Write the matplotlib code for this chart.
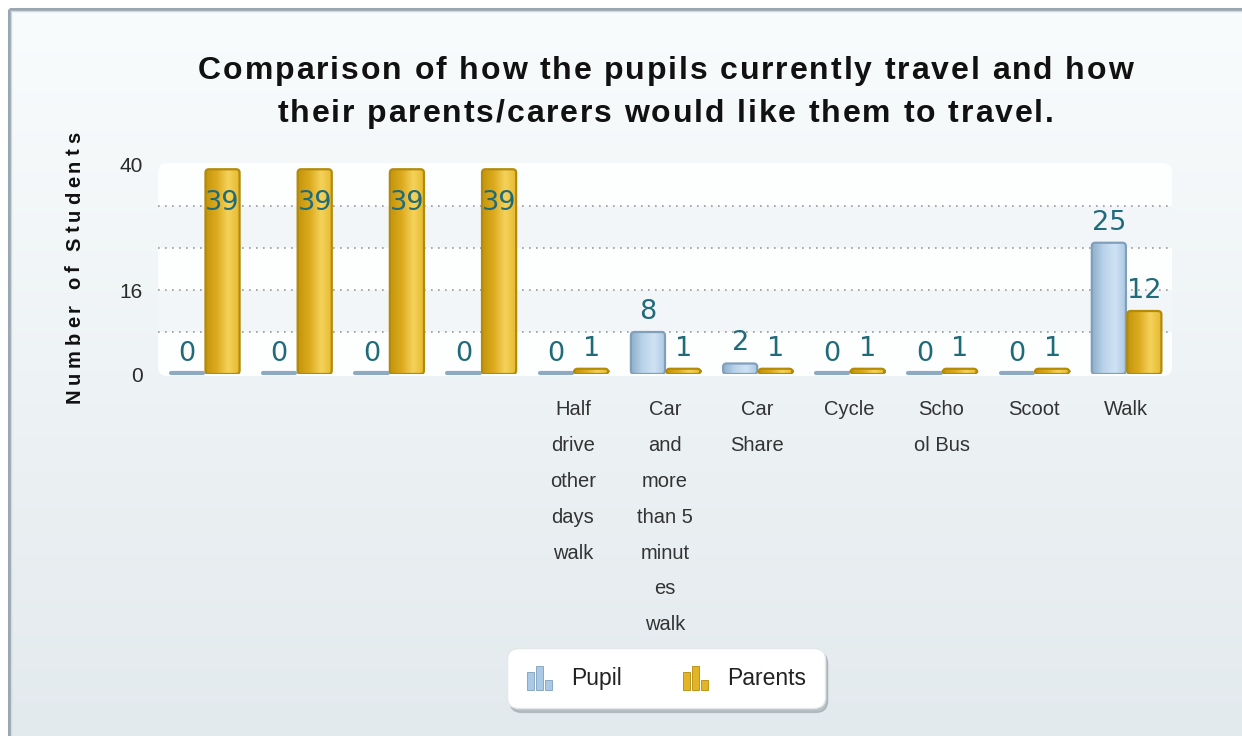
import numpy as np
import matplotlib
matplotlib.use("Agg")
import matplotlib.pyplot as plt
from matplotlib.patches import FancyBboxPatch, Rectangle, Patch
from matplotlib.legend_handler import HandlerBase
from matplotlib.font_manager import FontProperties
from matplotlib.textpath import TextToPath
from matplotlib.colors import to_rgb

# ---- data ----
categories = ["", "", "", "",
              "Half\ndrive\nother\ndays\nwalk",
              "Car\nand\nmore\nthan 5\nminut\nes\nwalk",
              "Car\nShare", "Cycle", "Scho\nol Bus", "Scoot", "Walk"]
pupil = [0, 0, 0, 0, 0, 8, 2, 0, 0, 0, 25]
parents = [39, 39, 39, 39, 1, 1, 1, 1, 1, 1, 12]
series_names = ["Pupil", "Parents"]
y_ticks = [0, 16, 40]
y_grid = [8, 16, 24, 32]
title_lines = ["Comparison of how the pupils currently travel and how",
               "their parents/carers would like them to travel."]
y_label = "Number of Students"

W, H, DPI = 1242, 736, 100
fig = plt.figure(figsize=(W / DPI, H / DPI), dpi=DPI)

# ---- background with frame ----
bg = fig.add_axes([0, 0, 1, 1], zorder=-10)
bg.set_xlim(0, W)
bg.set_ylim(H, 0)
bg.axis("off")
top_c, bot_c = np.array(to_rgb("#f9fcfd")), np.array(to_rgb("#e3eaed"))
t = np.linspace(0, 1, 256)[:, None, None]
grad = top_c * (1 - t) + bot_c * t
grad = np.repeat(grad, 2, axis=1)
bg.imshow(grad, extent=(9, W, H, 9), aspect="auto", interpolation="bilinear")
bg.plot([8.5, W], [8.5, 8.5], color="#9aa7b1", lw=2.2, solid_capstyle="butt")
bg.plot([8.5, 8.5], [8.5, H], color="#9aa7b1", lw=2.2, solid_capstyle="butt")
bg.plot([10.5, W], [10.5, 10.5], color="#cfd9e0", lw=1)
bg.plot([10.5, 10.5], [10.5, H], color="#cfd9e0", lw=1)

# white plot panel with rounded corners
panel = FancyBboxPatch((158, 163), 1014, 213,
                       boxstyle="round,pad=0,rounding_size=9",
                       facecolor="#fdfefe", edgecolor="none")
bg.add_patch(panel)

# ---- main axes ----
ax_l, ax_r, ax_t, ax_b = 158, 1172, 164, 374
ax = fig.add_axes([ax_l / W, 1 - ax_b / H, (ax_r - ax_l) / W, (ax_b - ax_t) / H])
ax.set_facecolor("none")
for s in ax.spines.values():
    s.set_visible(False)

n = len(categories)
x = np.arange(n)
width = 0.37
off_pupil, off_parents = -0.185, 0.2

ax.set_xlim(-0.5, n - 0.5)
ax.set_ylim(0, 40)

# alternate bands + dotted grid
for lo, hi in [(24, 32), (8, 16)]:
    ax.axhspan(lo, hi, color="#f3f6f8", lw=0, zorder=0)
for g in y_grid:
    ax.axhline(g, color="#9a9a9a", lw=1.2, ls=(0, (1, 3.2)), zorder=1)

styles = {
    "Pupil": dict(stops=["#8fb0cc", "#b9d3ea", "#cfe2f3", "#a9c7e2"], edge="#7f9fbb",
                  zero="#8eaac2"),
    "Parents": dict(stops=["#c4960c", "#dcaa1e", "#f4d25a", "#e6ba2e"], edge="#b38a0a",
                    zero="#c9a020"),
}

px_per_unit_x = (ax_r - ax_l) / n
px_per_unit_y = (ax_b - ax_t) / 40.0


def gradient_row(stops, npx=64):
    cols = np.array([to_rgb(c) for c in stops])
    pos = np.linspace(0, 1, len(stops))
    tt = np.linspace(0, 1, npx)
    row = np.stack([np.interp(tt, pos, cols[:, k]) for k in range(3)], axis=-1)
    return row[None, :, :]


def draw_series(values, offset, name):
    st = styles[name]
    bars = ax.bar(x + offset, values, width, color=st["stops"][1], zorder=2)
    for rect, v in zip(bars.patches, values):
        rect.set_visible(False)
        x0, w = rect.get_x(), rect.get_width()
        if v == 0:
            ax.plot([x0 + 0.01, x0 + w - 0.01], [0.15, 0.15], color=st["zero"],
                    lw=3, solid_capstyle="round", zorder=3, clip_on=False)
            continue
        r = 3.5 / px_per_unit_x
        fb = FancyBboxPatch((x0, 0), w, v,
                            boxstyle=f"round,pad=0,rounding_size={r}",
                            mutation_aspect=(1 / px_per_unit_y) / (1 / px_per_unit_x),
                            facecolor="none", edgecolor=st["edge"], lw=1.6, zorder=4)
        ax.add_patch(fb)
        im = ax.imshow(gradient_row(st["stops"]), extent=(x0, x0 + w, 0, v),
                       aspect="auto", interpolation="bilinear", zorder=3)
        im.set_clip_path(fb)
    return bars


draw_series(pupil, off_pupil, "Pupil")
draw_series(parents, off_parents, "Parents")
ax.set_xlim(-0.5, n - 0.5)
ax.set_ylim(0, 40)

# value labels
lab_color = "#1f6b7a"
for values, offset in [(pupil, off_pupil), (parents, off_parents)]:
    for xi, v in zip(x, values):
        if v + 26 / px_per_unit_y > 40:
            dy = -41
        else:
            dy = 13
        ax.annotate(str(v), (xi + offset, v), xytext=(0, dy * 72 / DPI),
                    textcoords="offset points", ha="center", va="baseline",
                    fontsize=19.5, color=lab_color, family="DejaVu Sans", zorder=6,
                    annotation_clip=False)

# axes ticks
ax.set_yticks(y_ticks)
ax.set_yticklabels([str(v) for v in y_ticks], fontsize=15, color="#2a2a2a",
                   family="Liberation Sans")
ax.tick_params(axis="y", length=0, pad=11)
ax.set_xticks(x)
ax.set_xticklabels(categories, fontsize=14.5, color="#333333",
                   family="Liberation Sans", linespacing=2.12, va="top")
ax.tick_params(axis="x", length=0, pad=19)
ax.grid(False)


# ---- spaced text helper (title and axis label) ----
ttp = TextToPath()


def _adv(s, fp):
    if not s:
        return 0.0
    w1 = ttp.get_text_width_height_descent(s + "|", fp, ismath=False)[0]
    w0 = ttp.get_text_width_height_descent("|", fp, ismath=False)[0]
    return (w1 - w0) * DPI / 72.0


def spaced_text(cx, cy, s, fp, track, vertical=False, color="#111111"):
    total = _adv(s, fp) + track * (len(s) - 1)
    for i, ch in enumerate(s):
        if ch == " ":
            continue
        d = _adv(s[:i], fp) + track * i
        if vertical:
            px, py = cx, cy + total / 2 - d
            rot = 90
        else:
            px, py = cx - total / 2 + d, cy
            rot = 0
        fig.text(px / W, 1 - py / H, ch, fontproperties=fp, color=color,
                 ha="left", va="baseline", rotation=rot, rotation_mode="anchor")


title_fp = FontProperties(family="Liberation Sans", weight="bold", size=23)
spaced_text(665.5, 79, title_lines[0], title_fp, 1.9)
spaced_text(665.5, 122, title_lines[1], title_fp, 1.9)

ylab_fp = FontProperties(family="Liberation Sans", weight="bold", size=14.5)
spaced_text(80, 267.5, y_label, ylab_fp, 4.6, vertical=True)


# ---- legend with small bar-chart icons ----
class MiniBars(HandlerBase):
    def create_artists(self, legend, orig_handle, xdescent, ydescent,
                       width, height, fontsize, trans):
        fc = orig_handle.get_facecolor()
        ec = orig_handle.get_edgecolor()
        arts = []
        bw = width * 0.26
        for fx, fh in [(0.04, 0.8), (0.37, 1.05), (0.70, 0.45)]:
            r = Rectangle((-xdescent + fx * width, -ydescent - 0.1 * height),
                          bw, height * fh * 1.05, facecolor=fc, edgecolor=ec,
                          lw=0.6, transform=trans)
            arts.append(r)
        return arts


handles = [Patch(facecolor="#a9c9e6", edgecolor="#7f9fbb"),
           Patch(facecolor="#e3b526", edgecolor="#b38a0a")]
leg = fig.legend(handles, series_names, loc="center",
                 bbox_to_anchor=(666 / W, 1 - 678 / H), ncol=2,
                 handler_map={Patch: MiniBars()},
                 prop=FontProperties(family="Liberation Sans", size=16.5),
                 handlelength=1.2, handleheight=1.1, handletextpad=0.8,
                 columnspacing=2.6, borderpad=0.8, frameon=True, fancybox=True,
                 framealpha=1.0, edgecolor="#e4e8ea",
                 shadow={"color": "#9aa4aa", "alpha": 0.6, "ox": 2, "oy": -3})
leg.get_frame().set_facecolor("white")
leg.get_frame().set_boxstyle("round,pad=0,rounding_size=0.5")
for txt in leg.get_texts():
    txt.set_color("#222222")

fig.savefig("out.png", dpi=DPI)
